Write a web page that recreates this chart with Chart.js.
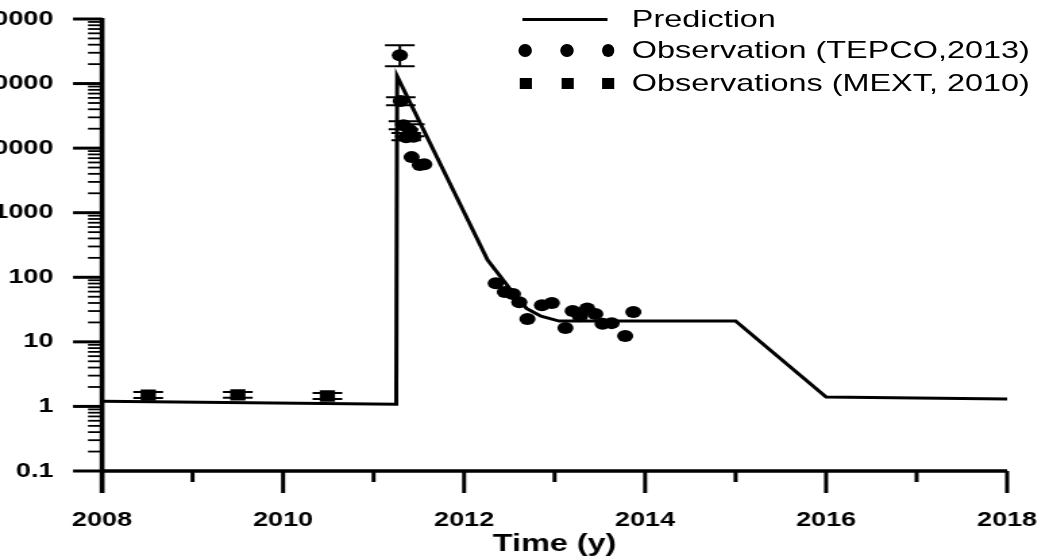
<!DOCTYPE html>
<html>
<head>
<meta charset="utf-8">
<script src="https://cdn.jsdelivr.net/npm/chart.js@4.4.0/dist/chart.umd.min.js"></script>
<style>
  html, body { margin: 0; padding: 0; background: #fff; overflow: hidden; width: 1042px; height: 559px; }
  /* the original picture is stretched sideways, so the whole chart is too */
  #wrap { position: absolute; left: 0; top: 0; width: 772px; height: 559px; transform: scaleX(1.35); transform-origin: 0 0; }
  #legend { position: absolute; left: 0; top: 0; font-family: "Liberation Sans", Arial, sans-serif; font-size: 24px; color: #000; }
  #legend .txt { position: absolute; left: 468px; line-height: 26px; white-space: nowrap; }
  #legend .mk { position: absolute; background: #000; }
</style>
</head>
<body>
<div id="wrap">
  <canvas id="chart"></canvas>
  <div id="legend">
    <div class="mk" style="left:387px; top:17.5px; width:63px; height:3px;"></div>
    <div class="txt" style="top:6px;">Prediction</div>
    <div class="mk" style="left:384px; top:43.5px; width:9.6px; height:13px; border-radius:50%;"></div>
    <div class="mk" style="left:415px; top:43.5px; width:9.6px; height:13px; border-radius:50%;"></div>
    <div class="mk" style="left:445.5px; top:43.5px; width:9.6px; height:13px; border-radius:50%;"></div>
    <div class="txt" style="top:37px;">Observation (TEPCO,2013)</div>
    <div class="mk" style="left:384.5px; top:77.5px; width:9px; height:11px;"></div>
    <div class="mk" style="left:415.5px; top:77.5px; width:9px; height:11px;"></div>
    <div class="mk" style="left:446px; top:77.5px; width:9px; height:11px;"></div>
    <div class="txt" style="top:70px;">Observations (MEXT, 2010)</div>
  </div>
</div>
<script>
const xTicks = [2008, 2010, 2012, 2014, 2016, 2018];
const xMinorTicks = [2009, 2011, 2013, 2015, 2017];
const yTicks = [0.1, 1, 10, 100, 1000, 10000, 100000, 1000000];

const predYears  = [2008, 2011.25, 2011.26, 2012.26, 2012.5, 2012.69, 2012.85, 2013.05, 2015, 2016, 2018];
const predValues = [1.2, 1.08, 130000, 185, 68, 33, 25, 21, 21, 1.4, 1.3];

const tepcoYears = [2011.29, 2011.30, 2011.33, 2011.40, 2011.36, 2011.44, 2011.42, 2011.51, 2011.56,
  2012.35, 2012.45, 2012.54, 2012.61, 2012.70, 2012.86, 2012.97, 2013.12, 2013.20, 2013.28,
  2013.36, 2013.45, 2013.53, 2013.63, 2013.78, 2013.87];
const tepcoValues = [275000, 53500, 22700, 19000, 14800, 15000, 7260, 5460, 5650,
  81, 59, 55, 41, 22.5, 37, 40, 16.4, 30, 25,
  33, 27, 19, 19.5, 12.3, 29];
const tepcoErrLow  = [186000, 46300, 19700, 15300, 13300];
const tepcoErrHigh = [393000, 61600, 26200, 23500, 17100];

const mextYears = [2008.51, 2009.5, 2010.49];
const mextValues = [1.5, 1.51, 1.45];
const mextErrLow = [1.35, 1.36, 1.3];
const mextErrHigh = [1.68, 1.68, 1.62];

const toPoints = (xs, ys) => xs.map((x, i) => ({ x: x, y: ys[i] }));

const errorBars = {
  id: 'errorBars',
  afterDatasetsDraw(chart) {
    const { ctx, scales: { x, y } } = chart;
    ctx.save();
    ctx.strokeStyle = '#000';
    chart.data.datasets.forEach(ds => {
      if (!ds.errLow) return;
      ds.errLow.forEach((lo, i) => {
        const hi = ds.errHigh[i];
        const px = x.getPixelForValue(ds.data[i].x);
        const y1 = y.getPixelForValue(lo), y2 = y.getPixelForValue(hi);
        ctx.lineWidth = 2;
        ctx.beginPath();
        ctx.moveTo(px, y1); ctx.lineTo(px, y2);
        ctx.moveTo(px - 11, y1); ctx.lineTo(px + 11, y1);
        ctx.moveTo(px - 11, y2); ctx.lineTo(px + 11, y2);
        ctx.stroke();
      });
    });
    ctx.restore();
  }
};

const axisLines = {
  id: 'axisLines',
  afterDatasetsDraw(chart) {
    const { ctx, chartArea: a, scales: { x, y } } = chart;
    const line = (x1, y1, x2, y2) => { ctx.beginPath(); ctx.moveTo(x1, y1); ctx.lineTo(x2, y2); ctx.stroke(); };
    ctx.save();
    ctx.strokeStyle = '#000';
    ctx.lineWidth = 3.6;
    line(a.left, a.top - 1, a.left, a.bottom + 22);
    ctx.lineWidth = 3.3;
    line(a.left, a.bottom, a.right, a.bottom);
    ctx.lineWidth = 3;
    xTicks.forEach(v => { const p = x.getPixelForValue(v); line(p, a.bottom, p, a.bottom + 22); });
    xMinorTicks.forEach(v => { const p = x.getPixelForValue(v); line(p, a.bottom, p, a.bottom + 11); });
    yTicks.forEach(v => { const p = y.getPixelForValue(v); line(a.left - 21.5, p, a.left, p); });
    ctx.lineWidth = 1.8;
    yTicks.slice(0, -1).forEach(d => {
      for (let k = 2; k <= 9; k++) {
        const p = y.getPixelForValue(d * k);
        line(a.left - 10.4, p, a.left, p);
      }
    });
    ctx.restore();
  }
};

new Chart(document.getElementById('chart'), {
  type: 'scatter',
  data: {
    datasets: [
      {
        label: 'Prediction',
        data: toPoints(predYears, predValues),
        showLine: true,
        borderColor: '#000',
        borderWidth: 3,
        pointRadius: 0,
        tension: 0
      },
      {
        label: 'Observation (TEPCO,2013)',
        data: toPoints(tepcoYears, tepcoValues),
        errLow: tepcoErrLow,
        errHigh: tepcoErrHigh,
        pointStyle: 'circle',
        pointRadius: 6,
        backgroundColor: '#000',
        borderWidth: 0
      },
      {
        label: 'Observations (MEXT, 2010)',
        data: toPoints(mextYears, mextValues),
        errLow: mextErrLow,
        errHigh: mextErrHigh,
        pointStyle: 'rect',
        pointRadius: 8,
        backgroundColor: '#000',
        borderWidth: 0
      }
    ]
  },
  options: {
    responsive: true,
    maintainAspectRatio: false,
    animation: false,
    layout: { padding: { top: 19, right: 26, left: 0, bottom: 0 } },
    plugins: { legend: { display: false }, tooltip: { enabled: false } },
    scales: {
      x: {
        type: 'linear',
        min: 2008,
        max: 2018,
        afterBuildTicks: s => { s.ticks = xTicks.map(v => ({ value: v })); },
        // fixed size, and no extra room for end labels
        afterFit: s => { s.height = 88; s.paddingLeft = 0; s.paddingRight = 0; },
        ticks: { color: '#000', padding: 37, font: { family: 'Liberation Sans', size: 20, weight: 'bold' }, callback: v => String(v) },
        grid: { display: false, drawTicks: false },
        border: { display: false },
        title: { display: true, text: 'Time (y)', color: '#000', padding: { top: 0, bottom: 0 },
                 font: { family: 'Liberation Sans', size: 24, weight: 'bold' } }
      },
      y: {
        type: 'logarithmic',
        min: 0.1,
        max: 1000000,
        afterBuildTicks: s => { s.ticks = yTicks.map(v => ({ value: v })); },
        afterFit: s => { s.width = 75.6; s.paddingTop = 0; s.paddingBottom = 0; },
        ticks: { color: '#000', padding: 36, font: { family: 'Liberation Sans', size: 20, weight: 'bold' }, callback: v => String(v) },
        grid: { display: false, drawTicks: false },
        border: { display: false }
      }
    }
  },
  plugins: [errorBars, axisLines]
});
</script>
</body>
</html>
